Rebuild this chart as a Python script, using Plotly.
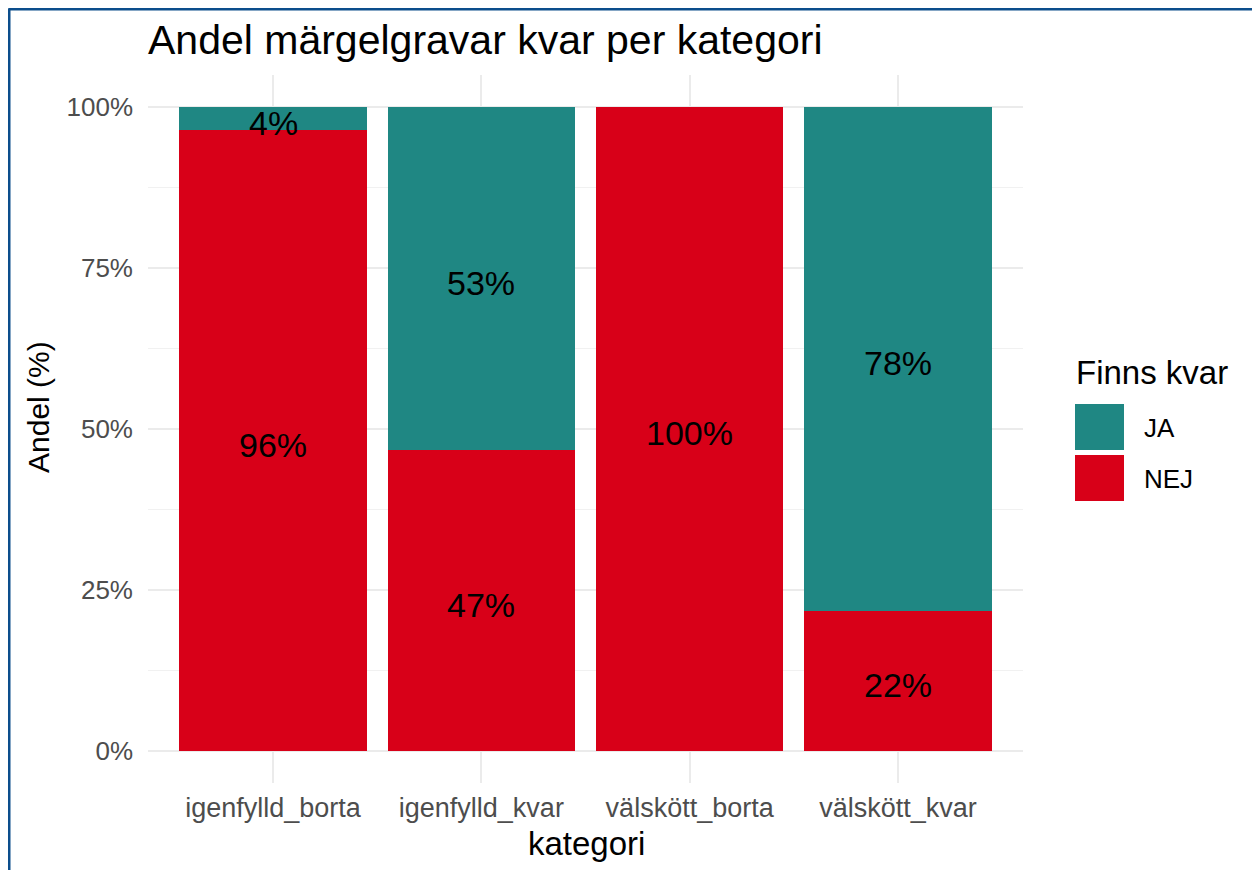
import plotly.graph_objects as go

# ---- data ----
categories = ["igenfylld_borta", "igenfylld_kvar", "välskött_borta", "välskött_kvar"]
andel_ja = [0.036, 0.533, 0.0, 0.783]
andel_nej = [0.964, 0.467, 1.0, 0.217]
series_names = ["JA", "NEJ"]
y_tick_vals = [0, 0.25, 0.5, 0.75, 1.0]
y_tick_text = ["0%", "25%", "50%", "75%", "100%"]
y_minor_vals = [0.125, 0.375, 0.625, 0.875]

COL_JA = "#1F8783"
COL_NEJ = "#D80018"
FONT = "Liberation Sans, Arial, Helvetica, sans-serif"

# the page body adds an 8px offset; screen coords are converted below
OFF = 8
W, H = 1260 - OFF, 870 - OFF
PW, PH = 875, 708
ML, MT = 148 - OFF, 75 - OFF
MR, MB = W - ML - PW, H - MT - PH

def px_x(px):
    return (px - OFF - ML) / PW

def px_y(py):
    return (MT + PH - (py - OFF)) / PH

fig = go.Figure()
fig.add_trace(go.Bar(x=categories, y=andel_nej, name="NEJ", marker_color=COL_NEJ,
                     marker_line_width=0, width=0.9, showlegend=False, hoverinfo="skip"))
fig.add_trace(go.Bar(x=categories, y=andel_ja, name="JA", marker_color=COL_JA,
                     marker_line_width=0, width=0.9, showlegend=False, hoverinfo="skip"))

ann = []
# labels at middle of each stacked segment
for c, n, j in zip(categories, andel_nej, andel_ja):
    segs = []
    if n > 0:
        segs.append((n / 2, f"{round(n*100)}%"))
    if j > 0:
        segs.append((n + j / 2, f"{round(j*100)}%"))
    for yv, t in segs:
        ann.append(dict(x=c, y=yv, text=t, xref="x", yref="y", showarrow=False,
                        xanchor="center", yanchor="middle", yshift=-4,
                        font=dict(family=FONT, size=34, color="black")))

fig.update_layout(
    width=W, height=H, barmode="stack", bargap=0.1,
    margin=dict(l=ML, r=MR, t=MT, b=MB),
    paper_bgcolor="white", plot_bgcolor="white",
    title=dict(text="Andel märgelgravar kvar per kategori", x=px_x(148), xref="paper",
               xanchor="left", y=1 - (40 - OFF) / H, yanchor="middle",
               font=dict(family=FONT, size=41, color="black")),
    xaxis=dict(type="category", range=[-0.6, 3.6], showgrid=True, gridcolor="#EBEBEB",
               gridwidth=2, zeroline=False, showline=False, ticks="",
               tickfont=dict(family=FONT, size=27, color="#4D4D4D"),
               ticklabelstandoff=6),
    yaxis=dict(range=[-0.05, 1.05], tickvals=y_tick_vals, ticktext=y_tick_text,
               showgrid=True, gridcolor="#EBEBEB", gridwidth=2, zeroline=False,
               showline=False, ticks="", ticklabelstandoff=14,
               tickfont=dict(family=FONT, size=26, color="#4D4D4D"),
               minor=dict(tickvals=y_minor_vals, showgrid=True, gridcolor="#F1F1F1",
                          gridwidth=1)),
    showlegend=False,
)

ann.append(dict(text="kategori", x=px_x(586), y=px_y(843), xref="paper", yref="paper",
                showarrow=False, xanchor="center", yanchor="middle",
                font=dict(family=FONT, size=33, color="black")))
ann.append(dict(text="Andel (%)", x=px_x(38), y=px_y(407), xref="paper", yref="paper",
                showarrow=False, xanchor="center", yanchor="middle", textangle=-90,
                font=dict(family=FONT, size=30, color="black")))
# legend
ann.append(dict(text="Finns kvar", x=px_x(1074), y=px_y(373), xref="paper", yref="paper",
                showarrow=False, xanchor="left", yanchor="middle",
                font=dict(family=FONT, size=33, color="black")))
ann.append(dict(text="JA", x=px_x(1142), y=px_y(428), xref="paper", yref="paper",
                showarrow=False, xanchor="left", yanchor="middle",
                font=dict(family=FONT, size=26, color="black")))
ann.append(dict(text="NEJ", x=px_x(1142), y=px_y(479), xref="paper", yref="paper",
                showarrow=False, xanchor="left", yanchor="middle",
                font=dict(family=FONT, size=26, color="black")))
fig.update_layout(annotations=ann)

shapes = []
shapes.append(dict(type="rect", xref="paper", yref="paper", x0=px_x(1075), x1=px_x(1124),
                   y0=px_y(450), y1=px_y(404), fillcolor=COL_JA, line=dict(width=0)))
shapes.append(dict(type="rect", xref="paper", yref="paper", x0=px_x(1075), x1=px_x(1124),
                   y0=px_y(501), y1=px_y(455), fillcolor=COL_NEJ, line=dict(width=0)))
# frame (top and left edges)
shapes.append(dict(type="line", xref="paper", yref="paper", x0=px_x(8.5), x1=px_x(1262),
                   y0=px_y(8.5), y1=px_y(8.5), line=dict(color="#0C4E8C", width=4)))
shapes.append(dict(type="line", xref="paper", yref="paper", x0=px_x(8.5), x1=px_x(8.5),
                   y0=px_y(8.5), y1=px_y(872), line=dict(color="#0C4E8C", width=4)))
fig.update_layout(shapes=shapes)

fig.write_html("out.html")
